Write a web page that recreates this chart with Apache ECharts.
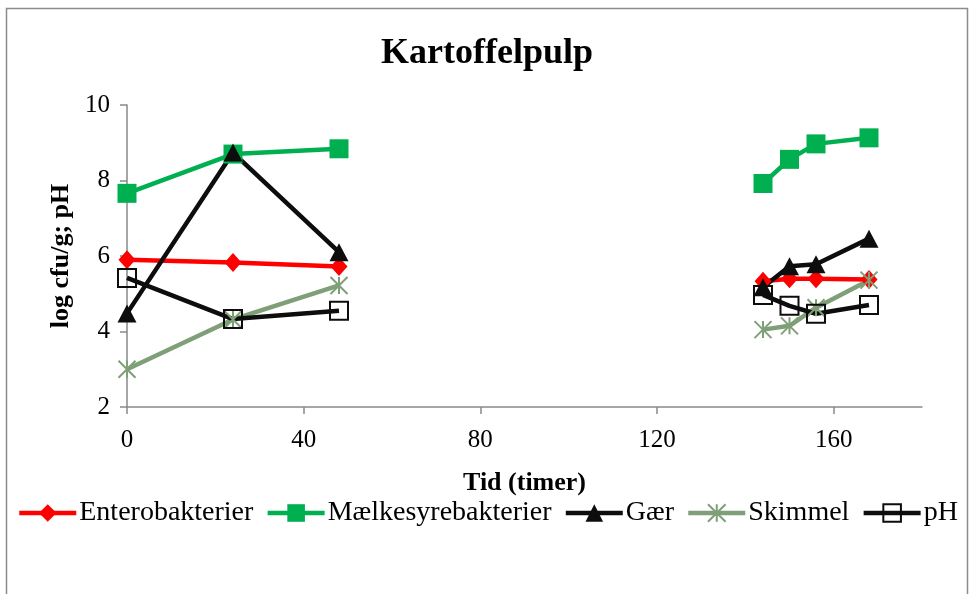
<!DOCTYPE html>
<html>
<head>
<meta charset="utf-8">
<script src="https://cdn.jsdelivr.net/npm/echarts@6/dist/echarts.min.js"></script>
<style>
  html, body { margin: 0; padding: 0; background: #fff; }
  #chart { width: 974px; height: 594px; }
</style>
</head>
<body>
<div id="chart"></div>
<script>
// Sampling times (hours): first run and second run
const timesRun1 = [0, 24, 48];
const timesRun2 = [144, 150, 156, 168];

const seriesNames = ['Enterobakterier', 'Mælkesyrebakterier', 'Gær', 'Skimmel', 'pH'];

// Measured values (log cfu/g, and pH)
const enteroRun1 = [5.9, 5.83, 5.72];
const enteroRun2 = [5.33, 5.4, 5.4, 5.38];
const lactoRun1 = [7.66, 8.7, 8.84];
const lactoRun2 = [7.92, 8.56, 8.97, 9.13];
const yeastRun1 = [4.48, 8.74, 6.1];
const yeastRun2 = [5.17, 5.73, 5.78, 6.46];
const mouldRun1 = [3.0, 4.32, 5.22];
const mouldRun2 = [4.05, 4.15, 4.63, 5.36];
const phRun1 = [5.42, 4.33, 4.55];
const phRun2 = [4.97, 4.68, 4.47, 4.7];

const xTicks = [0, 40, 80, 120, 160];
const yTicks = [2, 4, 6, 8, 10];

// Join both runs into one line, with a break between them
function joinRuns(v1, v2) {
  const a = timesRun1.map((t, i) => [t, v1[i]]);
  const b = timesRun2.map((t, i) => [t, v2[i]]);
  return a.concat([['-', '-']], b);
}

const font = 'Liberation Serif, Times New Roman, serif';
const axisGrey = '#898989';

const chart = echarts.init(document.getElementById('chart'));

const lineW = 4.5;
function makeSeries(name, data, color, symbol, size, extra) {
  return Object.assign({
    name: name,
    type: 'line',
    data: data,
    symbol: symbol,
    symbolSize: size,
    showAllSymbol: true,
    connectNulls: false,
    lineStyle: { color: color, width: lineW },
    itemStyle: { color: color },
    emphasis: { disabled: true },
    animation: false
  }, extra || {});
}

chart.setOption({
  backgroundColor: '#fff',
  animation: false,
  title: {
    text: 'Kartoffelpulp',
    left: 'center',
    top: 31,
    textStyle: { fontFamily: font, fontSize: 36, fontWeight: 'bold', color: '#000' }
  },
  grid: { left: 127, right: 52, top: 105, bottom: 187 },
  legend: {
    top: 494,
    left: 12,
    itemWidth: 57,
    itemHeight: 22,
    itemGap: 12,
    lineStyle: { width: 4.5 },
    textStyle: { fontFamily: font, fontSize: 28, color: '#000', padding: [0, 0, 0, -2] },
    data: seriesNames
  },
  xAxis: {
    type: 'value',
    min: 0,
    max: 180,
    interval: 40,
    name: 'Tid (timer)',
    nameLocation: 'middle',
    nameGap: 63,
    nameTextStyle: { fontFamily: font, fontSize: 26, fontWeight: 'bold', color: '#000' },
    axisLine: { show: true, lineStyle: { color: axisGrey, width: 1.5 } },
    axisTick: { show: true, length: 7, customValues: xTicks, lineStyle: { color: axisGrey, width: 1.5 } },
    axisLabel: { customValues: xTicks, fontFamily: font, fontSize: 25, color: '#000', margin: 21 },
    splitLine: { show: false }
  },
  yAxis: {
    type: 'value',
    min: 2,
    max: 10,
    interval: 2,
    name: 'log cfu/g; pH',
    nameLocation: 'middle',
    nameRotate: 90,
    nameGap: 53,
    nameTextStyle: { fontFamily: font, fontSize: 26, fontWeight: 'bold', color: '#000' },
    axisLine: { show: true, lineStyle: { color: axisGrey, width: 1.5 } },
    axisTick: { show: true, length: 7, customValues: yTicks, lineStyle: { color: axisGrey, width: 1.5 } },
    axisLabel: { customValues: yTicks, fontFamily: font, fontSize: 25, color: '#000', margin: 17 },
    splitLine: { show: false }
  },
  graphic: [{
    type: 'rect',
    shape: { x: 6.5, y: 8.5, width: 961, height: 620 },
    style: { fill: 'none', stroke: '#8c8c8c', lineWidth: 1.5 },
    silent: true,
    z: 100
  }],
  series: [
    makeSeries(seriesNames[0], joinRuns(enteroRun1, enteroRun2), '#ff0000', 'diamond', [17, 19]),
    makeSeries(seriesNames[1], joinRuns(lactoRun1, lactoRun2), '#00b050', 'rect', 19),
    makeSeries(seriesNames[2], joinRuns(yeastRun1, yeastRun2), '#0d0d0d', 'triangle', [19, 18]),
    makeSeries(seriesNames[3], joinRuns(mouldRun1, mouldRun2), '#7e9f78', 'path://M0,0L10,10M10,0L0,10M5,0L5,10', 17, {
      itemStyle: { color: '#7e9f78', borderColor: '#7e9f78', borderWidth: 2 }
    }),
    makeSeries(seriesNames[4], joinRuns(phRun1, phRun2), '#0d0d0d', 'rect', 18, {
      itemStyle: { color: 'rgba(255,255,255,0)', borderColor: '#0d0d0d', borderWidth: 2 }
    })
  ]
});
</script>
</body>
</html>
